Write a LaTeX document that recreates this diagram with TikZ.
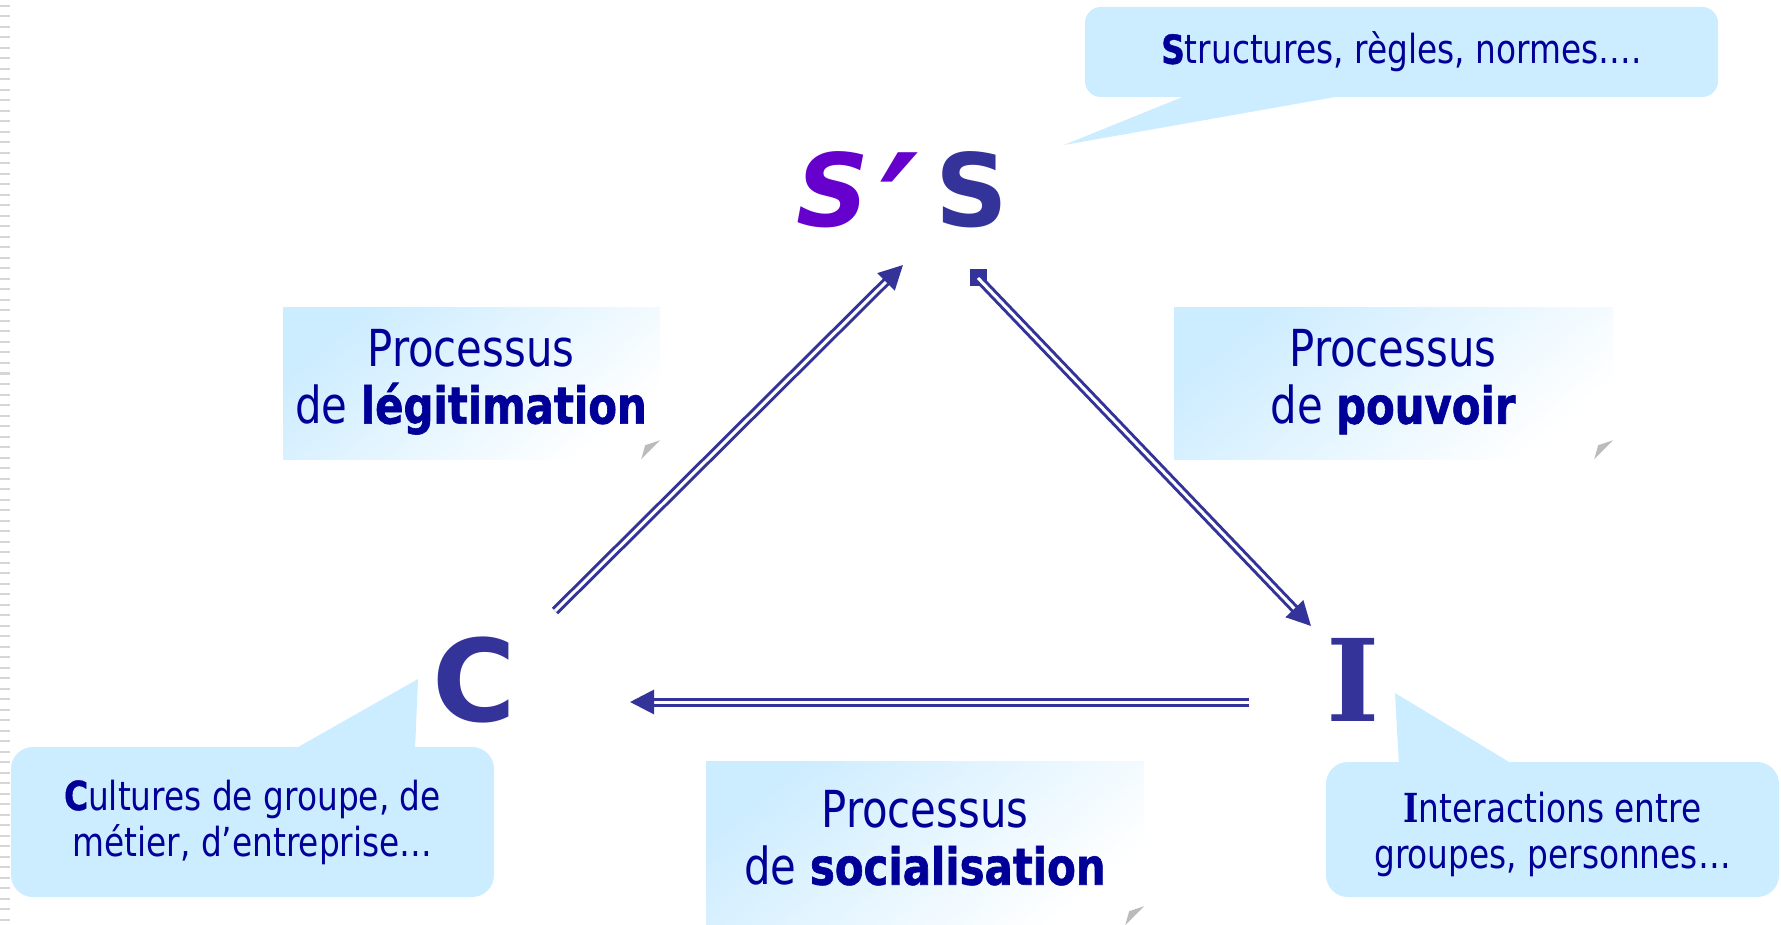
\documentclass[tikz,border=0pt]{standalone}
\usepackage{fontspec}
\setmainfont{DejaVu Sans}[FakeStretch=0.82, BoldFeatures={FakeBold=1.2}]
\newfontfamily\letterfont{DejaVu Sans}
\newfontfamily\letterserif{DejaVu Serif}
\newfontfamily\initserif{DejaVu Serif}[FakeStretch=0.82]
\usetikzlibrary{arrows.meta}

\definecolor{letterblue}{HTML}{333399}
\definecolor{primepurple}{HTML}{6600CC}
\definecolor{textnavy}{HTML}{000099}
\definecolor{bubble}{HTML}{CCECFF}
\definecolor{foldgray}{HTML}{BBBBBB}
\definecolor{stripgray}{HTML}{D6D6D6}

\begin{document}
\begin{tikzpicture}[x=1pt,y=-1pt,
  bubblebox/.style={fill=bubble, rounded corners=22pt, inner sep=0pt, align=center,
    text=textnavy, font=\fontsize{40}{46}\selectfont},
  bubbletext/.style={inner sep=0pt, align=center, text=textnavy, font=\fontsize{40}{46}\selectfont},
  bubbletail/.style={fill=bubble},
  procbox/.style={inner sep=0pt, top color=bubble, bottom color=white, shading angle=40},
  proctext/.style={align=center, text=textnavy, inner sep=0pt, font=\fontsize{51}{57}\selectfont},
  bigletter/.style={text=letterblue, inner sep=0pt, anchor=base},
  fold/.style={fill=foldgray},
  flow/.style={draw=letterblue, line width=3pt, double=white, double distance=3pt,
    -{Triangle[length=24pt,width=24pt]}},
]
% page
\fill[white] (0,0) rectangle (1781,925);
\useasboundingbox (0,0) rectangle (1781,925);

% dashed strip along the left edge
\foreach \k in {0,...,87}
  \draw[stripgray, line width=2pt] (0,{6+10.5*\k}) -- (10,{6+10.5*\k});

% process boxes with folded corner
\node[procbox, minimum width=377pt, minimum height=151pt] (legbox) at (471.5,383.5) {};
\node[procbox, minimum width=439pt, minimum height=151pt] (powbox) at (1393.5,383.5) {};
\node[procbox, minimum width=438pt, minimum height=164pt] (socbox) at (925,843) {};
\foreach \b in {legbox,powbox,socbox} {
  \fill[white] ([shift={(0,-19)}]\b.south east) -- (\b.south east) -- ([shift={(-19,0)}]\b.south east) -- cycle;
  \fill[fold] ([shift={(0,-19)}]\b.south east) -- ([shift={(-19,0)}]\b.south east)
    -- ([shift={(-15,-14)}]\b.south east) -- cycle;
}
\node[proctext] (legtext) at (471,382) {Processus\\de \textbf{légitimation}};
\node[proctext] (powtext) at (1393,382) {Processus\\de \textbf{pouvoir}};
\node[proctext] (soctext) at (925,838) {Processus\\de \textbf{socialisation}};

% speech bubbles
\node[bubblebox, rounded corners=16pt, minimum width=633pt, minimum height=90pt] (sbub) at (1401.5,52)
  {\textbf{S}tructures, règles, normes….};
\fill[bubbletail] (1190,94) -- (1352,94) -- (1064,145) -- cycle;

\node[bubblebox, minimum width=483pt, minimum height=150pt] (cbub) at (252.5,822)
  {\textbf{C}ultures de groupe, de\\métier, d’entreprise…};
\fill[bubbletail] (293,750) -- (415,750) -- (418,679) -- cycle;

\node[bubblebox, minimum width=453pt, minimum height=135pt] (ibub) at (1552.5,829.5) {};
\fill[bubbletail] (1399,765) -- (1514,765) -- (1395,693) -- cycle;
\node[bubbletext] (ibubtext) at (1552.5,834)
  {{\initserif\bfseries I}nteractions entre\\groupes, personnes…};

% the four letters
\node[bigletter, anchor=base west, text=primepurple, font=\letterfont\bfseries\itshape\fontsize{101}{101}\selectfont]
  (sprime) at (796,227) {S\hspace{12pt}\raisebox{-44pt}{\scalebox{1.45}[1.6]{\symbol{"2032}}}};
\node[bigletter, font=\letterfont\bfseries\fontsize{101}{101}\selectfont] (sletter) at (972,227) {S};
\node[bigletter, font=\letterfont\bfseries\fontsize{114}{114}\selectfont] (cletter) at (474,721) {C};
\node[bigletter, font=\letterserif\bfseries\fontsize{114}{114}\selectfont] (iletter) at (1353,721) {I};

% connectors
\coordinate (legfrom) at (555,611);
\coordinate (legto) at (903,265);
\coordinate (powto) at (1311,626);
\coordinate (socfrom) at (1249,702);
\coordinate (socto) at (630,702);
\draw[flow] (legfrom) -- (legto);
\node[fill=letterblue, minimum size=17pt, inner sep=0pt] (powfrom) at (978,278) {};
\draw[flow] (powfrom.center) -- (powto);
\draw[flow] (socfrom) -- (socto);
\end{tikzpicture}
\end{document}
